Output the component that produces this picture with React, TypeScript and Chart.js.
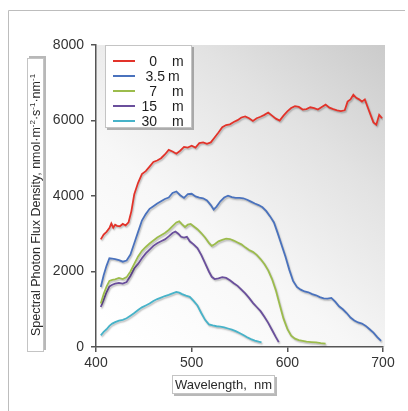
import React, { useEffect, useRef } from "react";
import { Chart, registerables } from "chart.js";

Chart.register(...registerables);

const FONT = '"Liberation Sans", Arial, Helvetica, sans-serif';

const seriesLabels = ["0", "3.5", "7", "15", "30"];
const seriesColors = ["#e2332a", "#4a72bd", "#9cbc4c", "#6a4f9c", "#47b3c9"];

const wl0 = [405, 408, 411, 414, 416, 418, 420, 422, 425, 428, 431, 434, 437, 440, 444, 448, 452, 456, 460, 464, 468, 472, 476, 480, 484, 488, 492, 496, 500, 504, 508, 512, 516, 520, 524, 528, 532, 536, 540, 544, 548, 552, 556, 560, 564, 568, 572, 576, 580, 584, 588, 592, 596, 600, 604, 608, 612, 616, 620, 624, 628, 632, 636, 640, 644, 648, 652, 656, 660, 663, 666, 669, 672, 675, 678, 681, 684, 687, 690, 693, 696, 699];
const val0 = [2850, 2980, 3050, 3150, 3270, 3160, 3240, 3210, 3200, 3260, 3220, 3300, 3600, 4050, 4350, 4580, 4660, 4780, 4900, 4940, 5000, 5100, 5220, 5180, 5120, 5200, 5300, 5280, 5330, 5280, 5400, 5420, 5380, 5420, 5550, 5680, 5820, 5880, 5900, 5960, 6010, 6080, 6110, 6060, 5990, 6060, 6100, 6150, 6210, 6130, 6050, 6000, 6130, 6240, 6330, 6380, 6360, 6290, 6300, 6350, 6330, 6290, 6360, 6420, 6340, 6300, 6270, 6250, 6270, 6500, 6560, 6680, 6600, 6560, 6500, 6560, 6350, 6150, 5950, 5890, 6150, 6060];

const wl35 = [405, 408, 411, 414, 417, 420, 424, 428, 432, 436, 440, 444, 448, 452, 456, 460, 464, 468, 472, 476, 480, 484, 488, 492, 496, 500, 504, 508, 512, 516, 520, 523, 526, 530, 534, 538, 542, 546, 550, 554, 558, 562, 566, 570, 574, 578, 582, 586, 590, 594, 598, 602, 606, 610, 614, 618, 622, 626, 630, 634, 638, 642, 646, 650, 654, 658, 662, 666, 670, 674, 678, 682, 686, 690, 694, 698];
const val35 = [1590, 1900, 2150, 2350, 2340, 2330, 2300, 2260, 2290, 2450, 2750, 3050, 3350, 3520, 3660, 3730, 3800, 3860, 3920, 3960, 4080, 4120, 4020, 3950, 4050, 4060, 3990, 3960, 3940, 3880, 3760, 3640, 3720, 3860, 3960, 4010, 3970, 3950, 3950, 3940, 3900, 3850, 3800, 3760, 3700, 3600, 3460, 3300, 3010, 2700, 2400, 2050, 1750, 1590, 1520, 1470, 1450, 1400, 1370, 1320, 1290, 1280, 1300, 1200, 1080, 1000, 900, 780, 700, 650, 620, 560, 470, 380, 260, 160];

const wl7 = [405, 408, 411, 414, 417, 420, 424, 428, 432, 436, 440, 444, 448, 452, 456, 460, 464, 468, 472, 476, 480, 484, 487, 490, 493, 496, 499, 502, 506, 510, 514, 518, 521, 524, 528, 532, 536, 540, 544, 548, 552, 556, 560, 564, 568, 572, 576, 580, 584, 588, 592, 596, 600, 604, 608, 612, 616, 620, 625, 630, 635, 640];
const val7 = [1150, 1400, 1600, 1750, 1780, 1790, 1830, 1800, 1850, 2000, 2200, 2400, 2550, 2650, 2740, 2820, 2900, 2960, 3020, 3100, 3200, 3300, 3330, 3250, 3180, 3240, 3260, 3200, 3120, 3020, 2900, 2760, 2680, 2720, 2800, 2840, 2870, 2860, 2820, 2770, 2720, 2640, 2570, 2520, 2440, 2330, 2200, 2030, 1800, 1500, 1120, 750, 480, 300, 220, 180, 160, 140, 130, 120, 100, 90];

const wl15 = [405, 408, 411, 414, 417, 420, 424, 428, 432, 436, 440, 444, 448, 452, 456, 460, 464, 468, 472, 476, 480, 483, 486, 489, 492, 495, 498, 502, 506, 510, 514, 518, 521, 524, 528, 532, 536, 540, 544, 548, 552, 556, 560, 564, 568, 572, 576, 580, 584, 588, 591];
const val15 = [1060, 1250, 1450, 1600, 1650, 1680, 1700, 1680, 1720, 1880, 2080, 2200, 2350, 2480, 2580, 2680, 2750, 2800, 2850, 2930, 3020, 3060, 3000, 2920, 2900, 2920, 2800, 2720, 2620, 2440, 2220, 2000, 1860, 1800, 1820, 1850, 1830, 1770, 1690, 1620, 1520, 1420, 1300, 1170, 1060, 950, 800, 640, 450, 260, 130];

const wl30 = [405, 408, 411, 414, 417, 420, 424, 428, 432, 436, 440, 444, 448, 452, 456, 460, 464, 468, 472, 476, 480, 484, 487, 490, 494, 498, 502, 506, 510, 514, 518, 522, 526, 530, 534, 538, 542, 546, 550, 554, 558, 562, 566, 570, 573];
const val30 = [310, 400, 470, 560, 620, 660, 700, 720, 760, 830, 900, 980, 1050, 1100, 1150, 1220, 1270, 1310, 1350, 1380, 1420, 1460, 1440, 1400, 1360, 1330, 1220, 1100, 900, 720, 600, 570, 550, 540, 520, 490, 460, 420, 370, 320, 260, 210, 170, 140, 120];

const seriesX = [wl0, wl35, wl7, wl15, wl30];
const seriesY = [val0, val35, val7, val15, val30];

const xTitle = "Wavelength,  nm";
const yTitleParts: [string, boolean][] = [
  ["Spectral Photon Flux Density, nmol·m", false],
  ["-2", true],
  ["·s", false],
  ["-1", true],
  ["·nm", false],
  ["-1", true],
];

function drawBox(ctx: CanvasRenderingContext2D, x: number, y: number, w: number, h: number) {
  ctx.save();
  ctx.fillStyle = "rgba(0,0,0,0.28)";
  ctx.fillRect(x + 2, y + 2, w, h);
  ctx.fillStyle = "#ffffff";
  ctx.fillRect(x, y, w, h);
  ctx.strokeStyle = "#c4c4c4";
  ctx.lineWidth = 1;
  ctx.strokeRect(x + 0.5, y + 0.5, w - 1, h - 1);
  ctx.restore();
}

const decorPlugin = {
  id: "decor",
  beforeDraw(chart: any) {
    const ctx: CanvasRenderingContext2D = chart.ctx;
    const a = chart.chartArea;
    ctx.save();
    ctx.strokeStyle = "#bdbdbd";
    ctx.lineWidth = 1;
    ctx.beginPath();
    ctx.moveTo(8.5, 411);
    ctx.lineTo(8.5, 10.5);
    ctx.lineTo(405, 10.5);
    ctx.stroke();
    const g = ctx.createLinearGradient(a.left + 40, a.bottom, a.right, a.top);
    g.addColorStop(0, "#ffffff");
    g.addColorStop(0.35, "#f7f7f7");
    g.addColorStop(0.7, "#e2e2e2");
    g.addColorStop(1, "#cbcbcb");
    ctx.fillStyle = g;
    ctx.fillRect(a.left, a.top, a.right - a.left + 2, a.bottom - a.top);
    ctx.restore();
  },
  beforeDatasetsDraw(chart: any) {
    const ctx: CanvasRenderingContext2D = chart.ctx;
    ctx.save();
    ctx.shadowColor = "rgba(0,0,0,0.25)";
    ctx.shadowOffsetX = 1;
    ctx.shadowOffsetY = 1.5;
    ctx.shadowBlur = 1.5;
  },
  afterDatasetsDraw(chart: any) {
    chart.ctx.restore();
  },
  afterDraw(chart: any) {
    const ctx: CanvasRenderingContext2D = chart.ctx;
    ctx.save();
    drawBox(ctx, 105, 45, 87, 83);
    const rowY = [61, 76, 91, 106, 121];
    ctx.font = `14px ${FONT}`;
    ctx.textBaseline = "middle";
    seriesLabels.forEach((lab, i) => {
      ctx.strokeStyle = seriesColors[i];
      ctx.lineWidth = 2;
      ctx.beginPath();
      ctx.moveTo(113, rowY[i]);
      ctx.lineTo(135, rowY[i]);
      ctx.stroke();
      ctx.fillStyle = "#1e1e1e";
      if (lab === "3.5") {
        ctx.textAlign = "right";
        ctx.fillText(lab, 165, rowY[i] + 1);
        ctx.textAlign = "left";
        ctx.fillText("m", 168, rowY[i] + 1);
      } else {
        ctx.textAlign = "right";
        ctx.fillText(lab, 157, rowY[i] + 1);
        ctx.textAlign = "left";
        ctx.fillText("m", 172, rowY[i] + 1);
      }
    });
    drawBox(ctx, 172, 375, 103, 19);
    ctx.fillStyle = "#2a2a2a";
    ctx.font = `13px ${FONT}`;
    ctx.textAlign = "center";
    ctx.textBaseline = "middle";
    ctx.fillText(xTitle, 223.5, 385);
    ctx.save();
    ctx.translate(35, 205);
    ctx.rotate(-Math.PI / 2);
    drawBox(ctx, -147, -8, 294, 17);
    const big = `12.5px ${FONT}`;
    const small = `8px ${FONT}`;
    let total = 0;
    yTitleParts.forEach(([t, sup]) => {
      ctx.font = sup ? small : big;
      total += ctx.measureText(t).width;
    });
    let x = -total / 2;
    ctx.textAlign = "left";
    ctx.fillStyle = "#2a2a2a";
    yTitleParts.forEach(([t, sup]) => {
      ctx.font = sup ? small : big;
      ctx.textBaseline = "alphabetic";
      ctx.fillText(t, x, sup ? 0 : 5);
      x += ctx.measureText(t).width;
    });
    ctx.restore();
    ctx.restore();
  },
};

export default function App() {
  const ref = useRef<HTMLCanvasElement | null>(null);
  useEffect(() => {
    if (!ref.current) return;
    const chart = new Chart(ref.current, {
      type: "line",
      data: {
        datasets: seriesLabels.map((lab, i) => ({
          label: lab + " m",
          data: seriesX[i].map((x, j) => ({ x, y: seriesY[i][j] })),
          borderColor: seriesColors[i],
          backgroundColor: seriesColors[i],
          borderWidth: 1.8,
          pointRadius: 0,
          tension: 0,
          fill: false,
        })),
      },
      options: {
        responsive: false,
        animation: false,
        layout: { padding: { top: 45, right: 25, left: 0, bottom: 0 } },
        plugins: {
          legend: { display: false },
          tooltip: { enabled: false },
          title: { display: false },
        },
        scales: {
          x: {
            type: "linear",
            min: 400,
            max: 700,
            afterFit: (s: any) => {
              s.height = 64;
            },
            ticks: {
              stepSize: 100,
              color: "#333",
              padding: 3,
              font: { family: FONT, size: 14 },
              callback: (v: any) => String(v),
            },
            grid: {
              drawOnChartArea: false,
              drawTicks: true,
              tickLength: 5,
              color: "#555",
              lineWidth: 1.5,
            },
            border: { display: true, color: "#555", width: 1.5 },
          },
          y: {
            type: "linear",
            min: 0,
            max: 8000,
            afterFit: (s: any) => {
              s.width = 96;
            },
            ticks: {
              stepSize: 2000,
              color: "#333",
              padding: 7,
              font: { family: FONT, size: 14 },
              callback: (v: any) => String(v),
            },
            grid: {
              drawOnChartArea: false,
              drawTicks: true,
              tickLength: 5,
              color: "#555",
              lineWidth: 1.5,
            },
            border: { display: true, color: "#555", width: 1.5 },
          },
        },
      },
      plugins: [decorPlugin],
    });
    return () => chart.destroy();
  }, []);
  return (
    <div style={{ position: "absolute", left: 0, top: 0, width: 408, height: 411 }}>
      <canvas ref={ref} width={408} height={411} />
    </div>
  );
}
